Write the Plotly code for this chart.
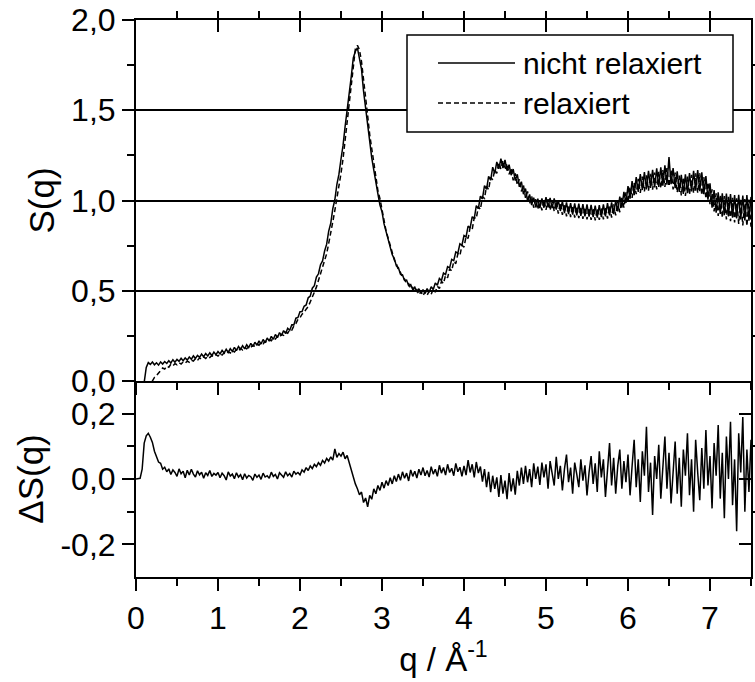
import plotly.graph_objects as go

# ---------------- data ----------------
Q_STEP = 0.025
N_POINTS = 301  # q = 0 ... 7.5

S_NICHT_RELAX = [
    -0.140, -0.140, -0.138, -0.090, 0.010, 0.075, 0.102, 0.092, 0.105, 0.090,
    0.101, 0.088, 0.106, 0.094, 0.108, 0.097, 0.112, 0.100, 0.118, 0.104,
    0.120, 0.109, 0.126, 0.112, 0.128, 0.116, 0.133, 0.121, 0.139, 0.125,
    0.142, 0.131, 0.149, 0.135, 0.152, 0.139, 0.156, 0.141, 0.160, 0.146,
    0.163, 0.150, 0.170, 0.155, 0.176, 0.158, 0.179, 0.164, 0.186, 0.168,
    0.191, 0.175, 0.196, 0.178, 0.201, 0.185, 0.209, 0.190, 0.215, 0.198,
    0.222, 0.205, 0.230, 0.212, 0.238, 0.221, 0.247, 0.231, 0.258, 0.240,
    0.268, 0.252, 0.279, 0.263, 0.292, 0.281, 0.312, 0.311, 0.348, 0.352,
    0.384, 0.385, 0.414, 0.421, 0.461, 0.470, 0.514, 0.528, 0.576, 0.594,
    0.644, 0.665, 0.720, 0.758, 0.830, 0.874, 0.955, 1.004, 1.090, 1.146,
    1.230, 1.305, 1.410, 1.495, 1.610, 1.686, 1.790, 1.826, 1.845, 1.786,
    1.728, 1.606, 1.508, 1.405, 1.328, 1.236, 1.168, 1.090, 1.037, 0.975,
    0.938, 0.870, 0.828, 0.774, 0.747, 0.699, 0.678, 0.638, 0.628, 0.592,
    0.588, 0.557, 0.559, 0.528, 0.534, 0.507, 0.520, 0.494, 0.511, 0.486,
    0.506, 0.485, 0.512, 0.492, 0.522, 0.507, 0.543, 0.530, 0.568, 0.557,
    0.598, 0.590, 0.634, 0.627, 0.674, 0.667, 0.715, 0.708, 0.760, 0.752,
    0.806, 0.798, 0.858, 0.848, 0.910, 0.900, 0.972, 0.955, 1.024, 1.010,
    1.082, 1.062, 1.134, 1.112, 1.185, 1.150, 1.214, 1.176, 1.232, 1.180,
    1.225, 1.165, 1.198, 1.140, 1.174, 1.110, 1.145, 1.076, 1.104, 1.035,
    1.066, 0.998, 1.034, 0.975, 1.016, 0.962, 1.010, 0.958, 1.012, 0.960,
    1.018, 0.962, 1.015, 0.958, 1.012, 0.950, 1.002, 0.942, 0.995, 0.930,
    0.990, 0.925, 0.985, 0.922, 0.984, 0.918, 0.982, 0.915, 0.980, 0.912,
    0.978, 0.910, 0.976, 0.908, 0.972, 0.905, 0.975, 0.908, 0.978, 0.912,
    0.985, 0.918, 0.990, 0.925, 1.000, 0.940, 1.022, 0.960, 1.048, 0.986,
    1.080, 1.010, 1.108, 1.030, 1.130, 1.048, 1.146, 1.058, 1.158, 1.062,
    1.165, 1.070, 1.170, 1.072, 1.178, 1.075, 1.184, 1.082, 1.195, 1.088,
    1.240, 1.090, 1.180, 1.068, 1.162, 1.048, 1.142, 1.036, 1.145, 1.040,
    1.152, 1.050, 1.165, 1.055, 1.168, 1.052, 1.156, 1.035, 1.135, 1.005,
    1.095, 0.960, 1.058, 0.932, 1.045, 0.925, 1.040, 0.918, 1.038, 0.912,
    1.035, 0.905, 1.030, 0.900, 1.032, 0.895, 1.028, 0.890, 1.030, 0.888,
    1.020,
]

S_RELAX = [
    -0.140, -0.140, -0.140, -0.125, -0.100, -0.060, -0.040, -0.020, -0.005, 0.020,
    0.030, 0.042, 0.058, 0.072, 0.066, 0.082, 0.076, 0.093, 0.084, 0.096,
    0.090, 0.101, 0.094, 0.106, 0.099, 0.110, 0.104, 0.116, 0.110, 0.124,
    0.114, 0.128, 0.120, 0.133, 0.125, 0.137, 0.130, 0.141, 0.134, 0.146,
    0.138, 0.151, 0.144, 0.156, 0.150, 0.163, 0.155, 0.168, 0.161, 0.174,
    0.166, 0.180, 0.172, 0.185, 0.178, 0.191, 0.186, 0.198, 0.192, 0.205,
    0.198, 0.212, 0.206, 0.220, 0.214, 0.228, 0.223, 0.238, 0.232, 0.248,
    0.242, 0.258, 0.253, 0.270, 0.265, 0.284, 0.282, 0.305, 0.318, 0.342,
    0.350, 0.370, 0.380, 0.398, 0.412, 0.438, 0.462, 0.492, 0.520, 0.558,
    0.590, 0.620, 0.660, 0.705, 0.762, 0.815, 0.882, 0.945, 1.010, 1.080,
    1.150, 1.232, 1.335, 1.430, 1.550, 1.655, 1.770, 1.840, 1.860, 1.835,
    1.770, 1.680, 1.560, 1.470, 1.365, 1.285, 1.195, 1.130, 1.055, 1.010,
    0.945, 0.898, 0.830, 0.792, 0.745, 0.712, 0.670, 0.650, 0.615, 0.602,
    0.570, 0.565, 0.538, 0.540, 0.512, 0.518, 0.490, 0.505, 0.478, 0.495,
    0.472, 0.494, 0.475, 0.498, 0.480, 0.510, 0.492, 0.525, 0.512, 0.552,
    0.540, 0.585, 0.572, 0.622, 0.610, 0.662, 0.650, 0.705, 0.695, 0.752,
    0.742, 0.800, 0.790, 0.852, 0.840, 0.905, 0.900, 0.966, 0.950, 1.020,
    1.012, 1.080, 1.060, 1.128, 1.115, 1.170, 1.150, 1.210, 1.175, 1.222,
    1.170, 1.205, 1.145, 1.178, 1.112, 1.150, 1.085, 1.118, 1.050, 1.085,
    1.015, 1.050, 0.982, 1.025, 0.960, 1.008, 0.950, 1.002, 0.945, 1.005,
    0.948, 1.008, 0.945, 1.002, 0.940, 0.995, 0.928, 0.988, 0.920, 0.982,
    0.912, 0.975, 0.908, 0.972, 0.905, 0.968, 0.902, 0.965, 0.898, 0.962,
    0.895, 0.960, 0.892, 0.958, 0.890, 0.955, 0.892, 0.960, 0.895, 0.962,
    0.900, 0.970, 0.905, 0.978, 0.918, 0.992, 0.935, 1.015, 0.960, 1.045,
    0.990, 1.075, 1.015, 1.098, 1.035, 1.120, 1.042, 1.132, 1.050, 1.140,
    1.055, 1.148, 1.060, 1.155, 1.062, 1.160, 1.068, 1.168, 1.075, 1.180,
    1.078, 1.170, 1.062, 1.155, 1.045, 1.138, 1.028, 1.128, 1.025, 1.132,
    1.032, 1.142, 1.040, 1.150, 1.042, 1.150, 1.030, 1.130, 1.010, 1.100,
    0.980, 1.062, 0.940, 1.040, 0.915, 1.030, 0.905, 1.025, 0.895, 1.020,
    0.885, 1.015, 0.878, 1.012, 0.870, 1.010, 0.862, 1.008, 0.858, 1.005,
    0.855,
]

DELTA_S = [
    0.000, 0.000, 0.002, 0.030, 0.110, 0.132, 0.140, 0.128, 0.112, 0.085,
    0.068, 0.052, 0.048, 0.030, 0.036, 0.022, 0.031, 0.014, 0.028, 0.020,
    0.008, 0.031, 0.016, 0.024, 0.004, 0.027, 0.012, 0.030, 0.015, 0.006,
    0.025, 0.013, 0.021, 0.002, 0.019, 0.011, 0.026, 0.008, 0.017, 0.012,
    0.020, 0.004, 0.018, 0.010, -0.003, 0.022, 0.009, 0.015, 0.001, 0.019,
    0.006, 0.013, -0.002, 0.016, 0.003, 0.011, 0.007, -0.004, 0.015, 0.005,
    0.012, -0.001, 0.018, 0.006, 0.010, 0.002, 0.021, 0.008, 0.014, 0.000,
    0.019, 0.011, 0.005, 0.022, 0.010, 0.017, 0.006, 0.024, 0.015, 0.020,
    0.013, 0.028, 0.021, 0.035, 0.026, 0.040, 0.032, 0.045, 0.038, 0.050,
    0.042, 0.057, 0.049, 0.063, 0.055, 0.068, 0.058, 0.092, 0.066, 0.078,
    0.070, 0.082, 0.062, 0.072, 0.048, 0.030, 0.008, -0.015, -0.030, -0.048,
    -0.040, -0.072, -0.058, -0.085, -0.050, -0.062, -0.030, -0.045, -0.020, -0.035,
    -0.010, -0.028, -0.005, -0.020, 0.004, -0.015, 0.010, -0.008, 0.015, -0.004,
    0.022, 0.002, 0.018, -0.006, 0.028, 0.008, 0.024, 0.003, 0.030, 0.012,
    0.035, 0.010, 0.026, 0.006, 0.038, 0.015, 0.030, 0.008, 0.042, 0.018,
    0.035, 0.012, 0.045, 0.020, 0.033, 0.010, 0.048, 0.022, 0.036, 0.008,
    0.040, 0.012, 0.058, 0.020, 0.045, 0.005, 0.052, 0.018, 0.038, -0.008,
    0.030, -0.025, 0.022, -0.040, 0.010, -0.030, 0.005, -0.055, 0.012, -0.045,
    -0.005, -0.062, 0.018, -0.038, 0.002, -0.048, 0.025, -0.020, 0.035, -0.015,
    0.040, -0.010, 0.030, -0.025, 0.048, 0.000, 0.038, -0.018, 0.050, 0.005,
    0.045, -0.030, 0.055, 0.010, -0.020, 0.068, 0.000, 0.040, -0.035, 0.030,
    0.075, -0.010, 0.035, -0.045, 0.050, 0.015, -0.025, 0.060, -0.005, 0.042,
    -0.050, 0.020, 0.070, -0.015, 0.048, -0.040, 0.085, 0.005, 0.060, -0.055,
    0.030, 0.110, -0.020, 0.065, -0.045, 0.040, 0.090, -0.030, 0.055, -0.010,
    0.075, -0.050, 0.040, 0.120, -0.025, 0.060, -0.070, 0.085, 0.010, 0.160,
    -0.040, 0.050, -0.110, 0.070, 0.000, 0.105, -0.060, 0.045, 0.130, -0.030,
    0.080, -0.075, 0.030, 0.115, -0.045, 0.065, -0.085, 0.090, 0.010, 0.140,
    -0.050, 0.060, -0.100, 0.120, 0.020, -0.065, 0.095, -0.030, 0.150, -0.020,
    0.070, -0.090, 0.110, 0.010, 0.165, -0.060, 0.080, -0.120, 0.130, 0.000,
    0.175, -0.080, 0.060, -0.160, 0.140, 0.020, 0.190, -0.100, 0.090, -0.040,
    0.120,
]

Q = [round(i * Q_STEP, 3) for i in range(N_POINTS)]

X_TICKS = [0, 1, 2, 3, 4, 5, 6, 7]
X_TICK_LABELS = ["0", "1", "2", "3", "4", "5", "6", "7"]
Y_TOP_TICKS = [0.0, 0.5, 1.0, 1.5, 2.0]
Y_TOP_LABELS = ["0,0", "0,5", "1,0", "1,5", "2,0"]
Y_BOT_TICKS = [-0.2, 0.0, 0.2]
Y_BOT_LABELS = ["-0,2", "0,0", "0,2"]

LEGEND_NAMES = ["nicht relaxiert", "relaxiert"]

# ---------------- figure ----------------
FONT = "Liberation Sans, Arial, sans-serif"
TICK_SIZE = 32
TITLE_SIZE = 35
XTITLE_SIZE = 33
W, H = 755, 682
ML, MR, MT, MB = 136, 4, 20, 105
PLOT_H = H - MT - MB
BOT_FRAC = 196 / PLOT_H

fig = go.Figure()

fig.add_trace(go.Scatter(x=Q, y=S_NICHT_RELAX, mode="lines", name=LEGEND_NAMES[0],
                         line=dict(color="black", width=1.5),
                         xaxis="x2", yaxis="y2", showlegend=False))
fig.add_trace(go.Scatter(x=Q, y=S_RELAX, mode="lines", name=LEGEND_NAMES[1],
                         line=dict(color="black", width=1.5, dash="5px,3px"),
                         xaxis="x2", yaxis="y2", showlegend=False))
fig.add_trace(go.Scatter(x=Q, y=DELTA_S, mode="lines", name="ΔS",
                         line=dict(color="black", width=1.5),
                         xaxis="x", yaxis="y", showlegend=False))
# empty traces so that the mirror axes (inward ticks) are drawn
fig.add_trace(go.Scatter(x=[], y=[], xaxis="x3", yaxis="y2", showlegend=False, hoverinfo="skip"))
fig.add_trace(go.Scatter(x=[], y=[], xaxis="x2", yaxis="y3", showlegend=False, hoverinfo="skip"))
fig.add_trace(go.Scatter(x=[], y=[], xaxis="x", yaxis="y4", showlegend=False, hoverinfo="skip"))

axis_common = dict(showline=True, linecolor="black", linewidth=2,
                   tickcolor="black", tickwidth=2, ticklen=12,
                   showgrid=False, zeroline=False,
                   tickfont=dict(family=FONT, size=TICK_SIZE, color="black"))

minor_x = dict(dtick=0.5, ticklen=7, tickwidth=2, tickcolor="black", showgrid=False)

fig.update_layout(
    width=W, height=H,
    margin=dict(l=ML, r=MR, t=MT, b=MB, autoexpand=False),
    paper_bgcolor="white", plot_bgcolor="white",
    font=dict(family=FONT, color="black"),
    showlegend=False,
    xaxis=dict(axis_common, domain=[0, 1], anchor="y", range=[0, 7.5],
               tickmode="array", tickvals=X_TICKS, ticktext=X_TICK_LABELS,
               ticks="outside", minor=minor_x,
               title=dict(text="q / Å<sup>-1</sup>", standoff=2,
                          font=dict(family=FONT, size=XTITLE_SIZE, color="black"))),
    xaxis2=dict(axis_common, domain=[0, 1], anchor="y2", range=[0, 7.5],
                tickmode="array", tickvals=X_TICKS, showticklabels=False,
                ticks="outside", minor=minor_x),
    xaxis3=dict(axis_common, domain=[0, 1], anchor="y2", overlaying="x2", side="top",
                range=[0, 7.5], tickmode="array", tickvals=X_TICKS,
                showticklabels=False, ticks="inside", minor=minor_x),
    yaxis=dict(axis_common, domain=[0, BOT_FRAC], anchor="x", range=[-0.3, 0.3],
               tickmode="array", tickvals=Y_BOT_TICKS, ticktext=Y_BOT_LABELS,
               ticks="outside",
               minor=dict(tickvals=[-0.1, 0.1], ticklen=7, tickwidth=2,
                          tickcolor="black", showgrid=False),
               title=dict(text="ΔS(q)", standoff=6,
                          font=dict(family=FONT, size=TITLE_SIZE, color="black"))),
    yaxis4=dict(axis_common, domain=[0, BOT_FRAC], anchor="x", overlaying="y",
                side="right", range=[-0.3, 0.3], tickmode="array",
                tickvals=Y_BOT_TICKS, showticklabels=False, ticks="inside",
                minor=dict(tickvals=[-0.1, 0.1], ticklen=7, tickwidth=2,
                           tickcolor="black", showgrid=False)),
    yaxis2=dict(axis_common, domain=[BOT_FRAC, 1], anchor="x2", range=[0, 2],
                tickmode="array", tickvals=Y_TOP_TICKS, ticktext=Y_TOP_LABELS,
                ticks="outside", showgrid=True, gridcolor="black", gridwidth=1.5,
                minor=dict(dtick=0.25, ticklen=7, tickwidth=2,
                           tickcolor="black", showgrid=False),
                title=dict(text="S(q)", standoff=6,
                           font=dict(family=FONT, size=TITLE_SIZE, color="black"))),
    yaxis3=dict(axis_common, domain=[BOT_FRAC, 1], anchor="x2", overlaying="y2",
                side="right", range=[0, 2], tickmode="array",
                tickvals=Y_TOP_TICKS, showticklabels=False, ticks="inside",
                minor=dict(dtick=0.25, ticklen=7, tickwidth=2,
                           tickcolor="black", showgrid=False)),
)

# ---------------- legend box (drawn in paper coordinates) ----------------
def px_x(p):
    return (p - ML) / (W - ML - MR)


def px_y(p):
    return (H - MB - p) / PLOT_H


fig.add_shape(type="rect", xref="paper", yref="paper",
              x0=px_x(407), x1=px_x(733), y0=px_y(132), y1=px_y(35),
              line=dict(color="black", width=1.5), fillcolor="white", layer="above")
fig.add_shape(type="line", xref="paper", yref="paper",
              x0=px_x(438), x1=px_x(515), y0=px_y(63), y1=px_y(63),
              line=dict(color="black", width=1.5), layer="above")
fig.add_shape(type="line", xref="paper", yref="paper",
              x0=px_x(438), x1=px_x(515), y0=px_y(103), y1=px_y(103),
              line=dict(color="black", width=1.5, dash="5px,3px"), layer="above")
for name, yy in zip(LEGEND_NAMES, [63, 103]):
    fig.add_annotation(xref="paper", yref="paper", x=px_x(521), y=px_y(yy),
                       text=name, showarrow=False, xanchor="left", yanchor="middle",
                       font=dict(family=FONT, size=30, color="black"))

fig.write_html("out.html")
